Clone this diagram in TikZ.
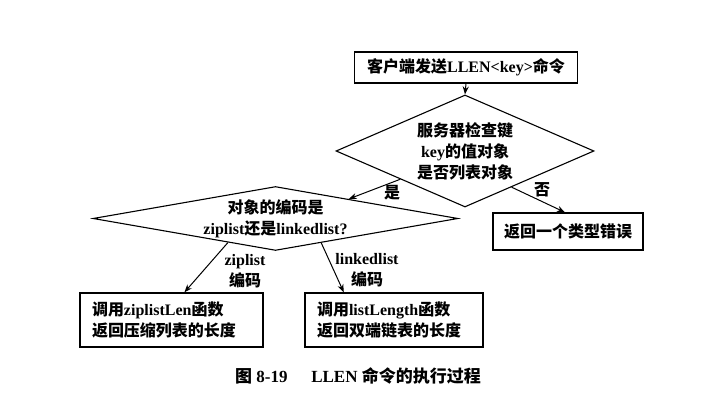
\documentclass[tikz,border=0pt]{standalone}
\usepackage{fontspec}
\setmainfont{Liberation Serif}
\newfontfamily\zhfont{Noto Sans CJK SC}
\newcommand{\zh}[1]{{\zhfont #1}}
\usetikzlibrary{arrows.meta,shapes.geometric,calc}
\tikzset{
  box/.style={draw, rectangle, line width=1.3pt, minimum height=31pt, align=center, inner sep=0pt},
  lbox/.style={box, align=left, inner xsep=12pt, minimum height=54pt},
  dec/.style={draw, diamond, line width=1.1pt, align=center, inner sep=0pt},
  arr/.style={-{Stealth[length=8pt, width=6pt]}, line width=1pt},
  lbl/.style={align=center, inner sep=1pt}
}

\begin{document}
\begin{tikzpicture}[x=1pt, y=1pt, every node/.style={font=\fontsize{16}{21}\selectfont\bfseries}]
\useasboundingbox (0,0) rectangle (705,407);
\node[box, minimum width=223pt] (cmd) at (466,339.5) {\zh{客户端发送}LLEN<key>\zh{命令}};
\node[dec, minimum width=258pt, minimum height=112pt, aspect=2.3] (chk) at (465,256)
  {\zh{服务器检查键}\\key\zh{的值对象}\\\zh{是否列表对象}};
\node[dec, minimum width=365pt, minimum height=63pt, aspect=5.6] (enc) at (275.5,188.5)
  {\zh{对象的编码是}\\ziplist\zh{还是}linkedlist?};
\node[box, minimum width=150pt, minimum height=37pt] (err) at (568,175.5) {\zh{返回一个类型错误}};
\node[lbox, text width=159pt] (zl) at (171.5,87) {\zh{调用}ziplistLen\zh{函数}\\\zh{返回压缩列表的长度}};
\node[lbox, text width=154pt] (ll) at (394,87) {\zh{调用}listLength\zh{函数}\\\zh{返回双端链表的长度}};
% edge labels
\node[lbl] (yes) at (392,214) {\zh{是}};
\node[lbl] (no) at (542,217) {\zh{否}};
\node[lbl] (zlenc) at (245,135.5) {ziplist\\\zh{编码}};
\node[lbl] (llenc) at (367,137) {linkedlist\\\zh{编码}};
\node[font=\fontsize{17}{21}\selectfont\bfseries] (cap) at (358,31) {\zh{图} 8-19\hspace{1.4em}LLEN \zh{命令的执行过程}};
\draw[arr] (cmd.south) -- (chk.north);
\draw[arr] (chk.south west) -- ($(enc.north)!0.4!(enc.east)$);
\draw[arr] ($(chk.south)!0.36!(chk.east)$) -- ($(err.north west)!0.48!(err.north east)$);
\draw[arr] ($(enc.south)!0.26!(enc.west)$) -- ($(zl.north west)!0.57!(zl.north east)$);
\draw[arr] ($(enc.south)!0.25!(enc.east)$) -- ($(ll.north west)!0.22!(ll.north east)$);
\end{tikzpicture}
\end{document}
